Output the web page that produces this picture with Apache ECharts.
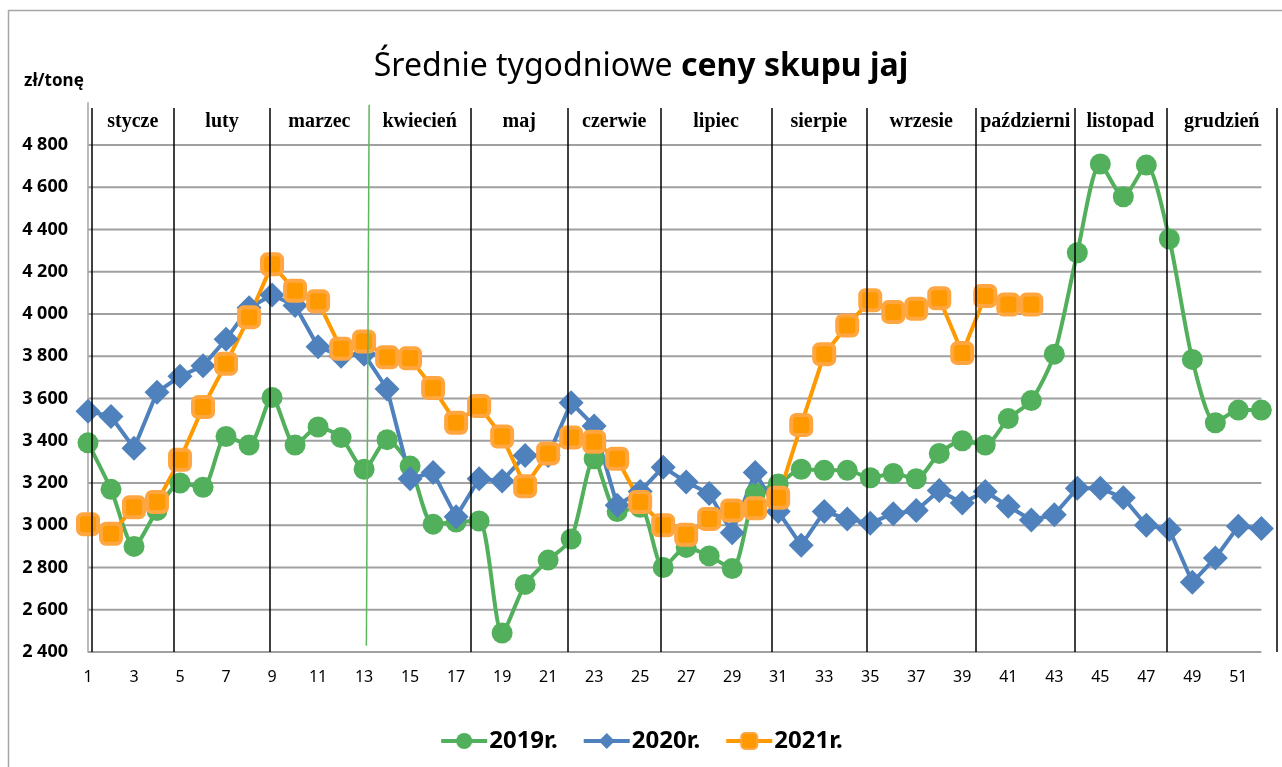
<!DOCTYPE html>
<html>
<head>
<meta charset="utf-8">
<title>Średnie tygodniowe ceny skupu jaj</title>
<script src="https://cdn.jsdelivr.net/npm/echarts@6/dist/echarts.min.js"></script>
<style>
	html, body { margin: 0; padding: 0; background: #fff; }
	#chart { width: 1282px; height: 767px; }
</style>
</head>
<body>
<div id="chart"></div>
<script>
// tygodnie 1..52
var weeks = [];
for (var w = 1; w <= 52; w++) {
	weeks.push(w);
}

var seriesNames = ['2019r.', '2020r.', '2021r.'];

var prices2019 = [3390, 3170, 2900, 3070, 3200, 3180, 3420, 3380, 3605, 3380,
	3465, 3415, 3265, 3405, 3280, 3005, 3015, 3020, 2490, 2720,
	2835, 2935, 3315, 3065, 3085, 2800, 2895, 2855, 2795, 3150,
	3195, 3265, 3260, 3260, 3225, 3245, 3220, 3340, 3400, 3380,
	3505, 3590, 3810, 4290, 4710, 4555, 4705, 4355, 3785, 3485,
	3545, 3545];

var prices2020 = [3540, 3515, 3365, 3630, 3705, 3755, 3880, 4030, 4090, 4040,
	3845, 3800, 3810, 3645, 3220, 3250, 3040, 3220, 3210, 3330,
	3330, 3580, 3470, 3095, 3160, 3275, 3205, 3150, 2965, 3250,
	3065, 2905, 3065, 3030, 3010, 3055, 3070, 3165, 3105, 3160,
	3090, 3025, 3050, 3175, 3175, 3130, 3000, 2980, 2730, 2845,
	2995, 2985];

var prices2021 = [3005, 2960, 3085, 3110, 3310, 3560, 3765, 3985, 4235, 4110,
	4060, 3835, 3870, 3795, 3790, 3650, 3485, 3565, 3420, 3185,
	3340, 3415, 3395, 3315, 3110, 3000, 2955, 3030, 3070, 3080,
	3130, 3475, 3810, 3945, 4065, 4010, 4025, 4075, 3815, 4085,
	4045, 4045];

var months = ['stycze', 'luty', 'marzec', 'kwiecień', 'maj', 'czerwie', 'lipiec',
	'sierpie', 'wrzesie', 'październi', 'listopad', 'grudzień'];

var yTicks = [2400, 2600, 2800, 3000, 3200, 3400, 3600, 3800, 4000, 4200, 4400, 4600, 4800];

// granice miesięcy na osi tygodni
var monthEdges = [1.15, 4.74, 8.91, 13.2, 17.63, 21.85, 25.9, 30.7, 34.83, 39.6, 43.87, 47.87, 52.68];

function pairs(values) {
	var out = [];
	for (var i = 0; i < values.length; i++) {
		out.push([weeks[i], values[i]]);
	}
	return out;
}

function fmtThousands(v) {
	var s = String(v);
	return s.length > 3 ? s.slice(0, s.length - 3) + ' ' + s.slice(-3) : s;
}

var sepStyle = {color: '#000', width: 1.5, type: 'solid'};

var monthLines = [];
for (var i = 0; i < monthEdges.length; i++) {
	if (i === 3) {
		// zielona linia kwiecień (lekko ukośna)
		monthLines.push([
			{xAxis: monthEdges[i] + 0.02, yAxis: 4990, lineStyle: {color: '#5cb85c', width: 1.5, type: 'solid'}},
			{xAxis: monthEdges[i] - 0.1, yAxis: 2430}
		]);
	} else {
		monthLines.push([
			{xAxis: monthEdges[i], yAxis: 4975, lineStyle: sepStyle},
			{xAxis: monthEdges[i], yAxis: 2400}
		]);
	}
}

var monthAreas = [];
for (var j = 0; j < months.length; j++) {
	monthAreas.push([
		{name: months[j], xAxis: monthEdges[j], yAxis: 5000},
		{xAxis: monthEdges[j + 1], yAxis: 4800}
	]);
}

var myChart = echarts.init(document.getElementById('chart'));

var frame = {
	type: 'polyline',
	shape: {points: [[8.5, 767], [8.5, 10.5], [1282, 10.5]]},
	style: {stroke: '#a6a6a6', lineWidth: 1.5, fill: null},
	silent: true
};

var option = {
	backgroundColor: '#fff',
	animation: false,
	graphic: [frame],
	title: [{
		text: '{a|Średnie tygodniowe }{b|ceny skupu jaj}',
		left: 'center',
		top: 46,
		textStyle: {
			rich: {
				a: {fontFamily: 'Noto Sans', fontSize: 32, fontWeight: 'normal', color: '#000'},
				b: {fontFamily: 'Noto Sans', fontSize: 32, fontWeight: 'bold', color: '#000'}
			}
		}
	}, {
		text: 'zł/tonę',
		left: 19,
		top: 68,
		textStyle: {fontFamily: 'Noto Sans', fontSize: 17, fontWeight: 'bold', color: '#000'}
	}],
	legend: {
		data: seriesNames,
		bottom: 9,
		left: 'center',
		itemWidth: 46,
		itemHeight: 20,
		itemGap: 24,
		lineStyle: {width: 4},
		textStyle: {fontFamily: 'Noto Sans', fontSize: 24, fontWeight: 'bold', color: '#000', padding: [0, 0, 0, -3]}
	},
	grid: {
		left: 88,
		right: 5,
		top: 102.75,
		bottom: 115
	},
	xAxis: {
		type: 'value',
		min: 1,
		max: 52.68,
		interval: 1,
		axisLine: {show: false},
		axisTick: {show: false},
		splitLine: {show: false},
		axisLabel: {
			margin: 17,
			fontFamily: 'Noto Sans',
			fontSize: 16,
			color: '#000',
			showMaxLabel: false,
			formatter: function(v) {
				return (v % 2 === 1 && v <= 51) ? String(v) : '';
			}
		}
	},
	yAxis: {
		type: 'value',
		min: 2400,
		max: 5000,
		interval: 200,
		axisLine: {show: true, lineStyle: {color: '#a6a6a6', width: 1.5}},
		axisTick: {show: false},
		splitLine: {show: false},
		axisLabel: {
			margin: 20,
			fontFamily: 'Noto Sans',
			fontSize: 18,
			fontWeight: 'bold',
			color: '#000',
			formatter: function(v) {
				return v >= 5000 ? '' : fmtThousands(v);
			}
		}
	},
	series: [{
		type: 'line',
		data: [],
		silent: true,
		markArea: {
			silent: true,
			itemStyle: {color: 'rgba(255,255,255,0)'},
			label: {
				show: true,
				position: 'inside',
				offset: [0, -2],
				fontFamily: 'Liberation Serif',
				fontSize: 20,
				fontWeight: 'bold',
				color: '#000'
			},
			data: monthAreas
		}
	}, {
		type: 'line',
		data: [],
		silent: true,
		markLine: {
			silent: true,
			symbol: 'none',
			animation: false,
			label: {show: false},
			lineStyle: sepStyle,
			data: monthLines
		}
	}, {
		name: seriesNames[0],
		type: 'line',
		data: pairs(prices2019),
		smooth: 0.25,
		symbol: 'circle',
		symbolSize: 21,
		lineStyle: {color: '#52b05c', width: 4},
		itemStyle: {color: '#52b05c'}
	}, {
		name: seriesNames[1],
		type: 'line',
		data: pairs(prices2020),
		symbol: 'diamond',
		symbolSize: 25,
		lineStyle: {color: '#4f81bd', width: 4},
		itemStyle: {color: '#4f81bd'}
	}, {
		name: seriesNames[2],
		type: 'line',
		data: pairs(prices2021),
		symbol: 'roundRect',
		symbolSize: 20,
		lineStyle: {color: '#ff9900', width: 4},
		itemStyle: {color: '#ff9900', borderColor: '#ffa640', borderWidth: 4}
	}]
};

myChart.setOption(option);

// poziome linie siatki jako cienkie prostokąty, pozycje z osi wykresu
var gx0 = myChart.convertToPixel({xAxisIndex: 0}, weeks[0]);
var gx1 = myChart.convertToPixel({xAxisIndex: 0}, weeks[weeks.length - 1]);
var gridRects = yTicks.map(function(v) {
	var gy = myChart.convertToPixel({yAxisIndex: 0}, v);
	return {
		type: 'rect',
		shape: {x: gx0, y: gy - 1, width: gx1 - gx0, height: 2},
		style: {fill: '#a0a0a0'},
		silent: true,
		z: -1
	};
});
myChart.setOption({graphic: [frame].concat(gridRects)});
</script>
</body>
</html>
